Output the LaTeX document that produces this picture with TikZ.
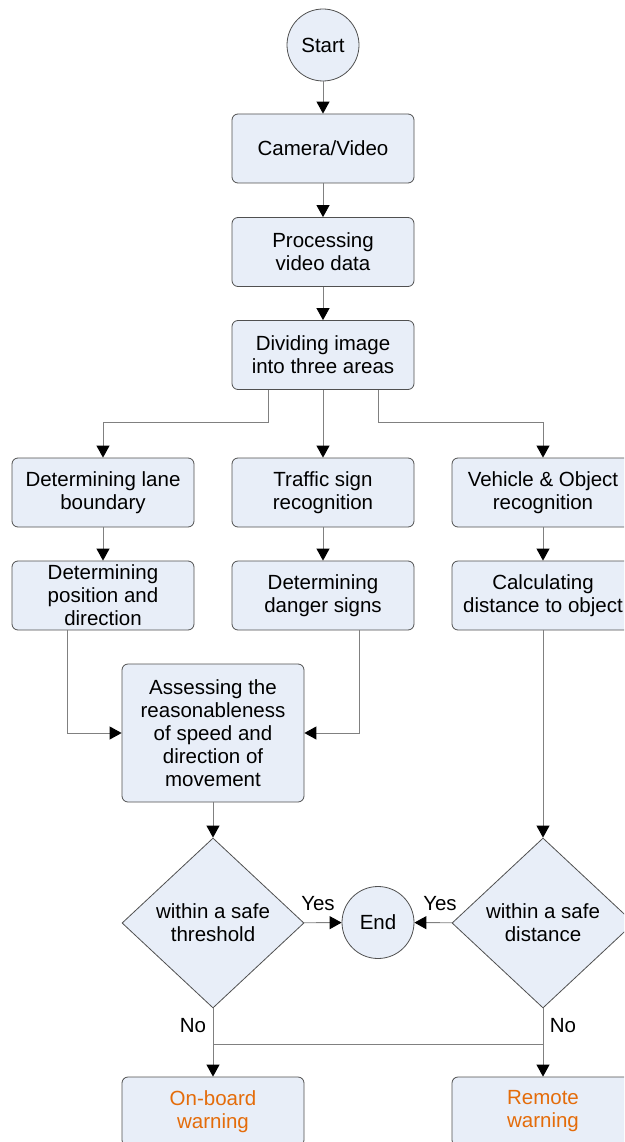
\documentclass[tikz,border=0pt]{standalone}
\usepackage{fontspec}
\setmainfont{Liberation Sans}
\usetikzlibrary{arrows.meta,shapes.geometric}
\definecolor{boxfill}{RGB}{232,238,248}
\definecolor{boxline}{RGB}{80,80,80}
\definecolor{connclr}{RGB}{128,128,128}
\definecolor{warn}{RGB}{228,108,10}
\begin{document}
\begin{tikzpicture}[x=1pt,y=-1pt,
  base/.style={draw=boxline, fill=boxfill, line width=0.8pt, align=center, inner sep=0pt, font=\fontsize{20.5}{23}\selectfont},
  proc/.style={base, rounded corners=6pt, minimum width=182pt, minimum height=69pt},
  term/.style={base, circle, minimum size=72pt},
  decide/.style={base, diamond, minimum width=182pt, minimum height=170pt},
  arr/.style={draw=connclr, line width=0.9pt, -{Triangle[length=12pt,width=13pt,color=black]}},
  link/.style={draw=connclr, line width=0.9pt},
  lbl/.style={font=\fontsize{20.5}{23}\selectfont, inner sep=0pt}
]
\useasboundingbox (0,0) rectangle (624,1142);
\clip (0,0) rectangle (624,1142);

\node[term] (start) at (323,45) {Start};
\node[proc] (cam) at (323,148.5) {Camera/Video};
\node[proc] (proc) at (323,252) {Processing\\video data};
\node[proc] (div) at (323,355) {Dividing image\\into three areas};
\node[proc] (lane) at (103,492.5) {Determining lane\\boundary};
\node[proc] (sign) at (323,492.5) {Traffic sign\\recognition};
\node[proc] (veh) at (543,492.5) {Vehicle \& Object\\recognition};
\node[proc] (pos) at (103,595.5) {Determining\\position and\\direction};
\node[proc] (dang) at (323,595.5) {Determining\\danger signs};
\node[proc] (dist) at (543,595.5) {Calculating\\distance to object};
\node[proc, minimum height=138pt] (assess) at (213,733) {Assessing the\\reasonableness\\of speed and\\direction of\\movement};
\node[decide] (thr) at (213,923) {within a safe\\threshold};
\node[term] (end) at (378,922.5) {End};
\node[decide] (sd) at (543,923) {within a safe\\distance};
\node[proc, text=warn] (onb) at (213,1111.5) {On-board\\warning};
\node[proc, text=warn] (rem) at (543,1111.5) {Remote\\warning};

\node[lbl] (yes1) at (318,904) {Yes};
\node[lbl] (yes2) at (440,904) {Yes};
\node[lbl] (no1) at (193,1026) {No};
\node[lbl] (no2) at (563,1026) {No};

\draw[arr] (start) -- (cam);
\draw[arr] (cam) -- (proc);
\draw[arr] (proc) -- (div);
\draw[arr] ([xshift=-55pt]div.south) |- ([yshift=35pt]lane.north) -- (lane.north);
\draw[arr] (div) -- (sign);
\draw[arr] ([xshift=55pt]div.south) |- ([yshift=35pt]veh.north) -- (veh.north);
\draw[arr] (lane) -- (pos);
\draw[arr] (sign) -- (dang);
\draw[arr] (veh) -- (dist);
\draw[arr] ([xshift=-36pt]pos.south) |- (assess.west);
\draw[arr] ([xshift=36pt]dang.south) |- (assess.east);
\draw[arr] (assess) -- (thr);
\draw[arr] (dist) -- (sd);
\draw[arr] (thr) -- (end);
\draw[arr] (sd) -- (end);
\draw[arr] (thr) -- (onb);
\draw[arr] (sd) -- (rem);
\coordinate (j1) at (213,1044);
\coordinate (j2) at (543,1044);
\draw[link] (j1) -- (j2);
\end{tikzpicture}
\end{document}
